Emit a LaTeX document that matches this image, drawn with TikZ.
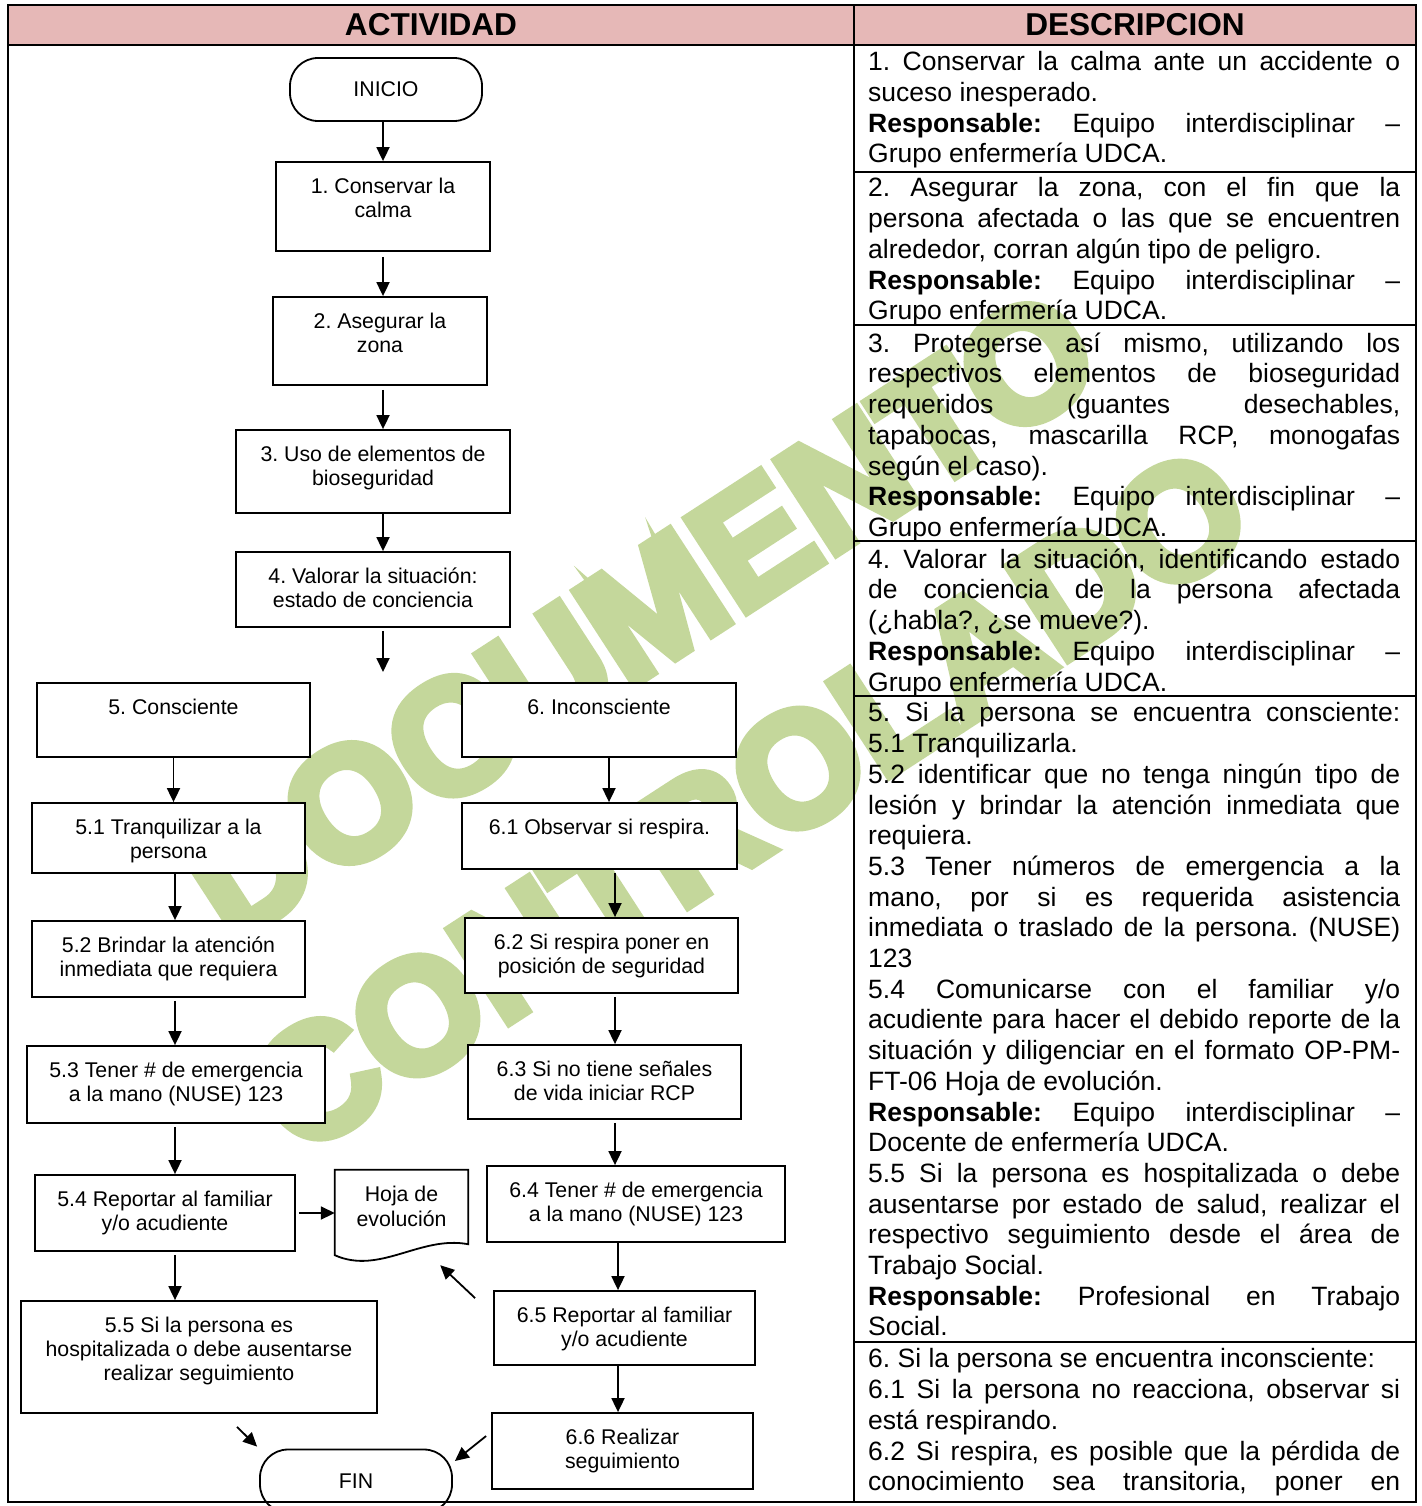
\documentclass[tikz,border=0pt]{standalone}
\usepackage{fontspec}
\setmainfont{Liberation Sans}
\newfontfamily\wmfont[BoldFeatures={FakeBold=6}]{Liberation Sans}
\usetikzlibrary{arrows.meta, positioning, calc}
\definecolor{hdrpink}{HTML}{E6B8B7}
\definecolor{wmgreen}{HTML}{C4D79B}
\frenchspacing

\begin{document}
\begin{tikzpicture}[x=1pt, y=-1pt,
  act/.style={draw, line width=1.8pt, fill=white, inner sep=0pt},
  term/.style={act, rounded corners=28pt, minimum width=192pt, minimum height=63pt,
               font=\fontsize{21.3}{24.4}\selectfont},
  acttxt/.style={anchor=north, align=center, inner sep=0pt, font=\fontsize{21.3}{24.4}\selectfont},
  desc/.style={anchor=north west, inner sep=0pt, text width=532pt, align=justify,
               font=\fontsize{26.5}{30.7}\selectfont,
               execute at begin node={\parindent=0pt\hyphenpenalty=10000\exhyphenpenalty=10000\tolerance=10000}},
  head/.style={font=\fontsize{31.6}{36}\selectfont\bfseries},
  wm/.style={text=wmgreen, inner sep=0pt, rotate=33, font=\fontsize{160}{160}\wmfont\bfseries},
  arr/.style={-{Triangle[length=14pt, width=13pt]}, line width=1.8pt},
  grid/.style={line width=2.4pt},
]
  \useasboundingbox (0,0) rectangle (1421,1506);

  % header
  \fill[hdrpink] (8,5) rectangle (1416,45);
  \node[head] (hact) at (431,25) {ACTIVIDAD};
  \node[head] (hdesc) at (1135,25) {DESCRIPCION};

  % watermark
  \node[wm] (wm1) at (640,615) {DOCUMENTO};
  \node[wm] (wm2) at (750,800) {CONTROLADO};

  % main column
  \node[term] (ini) at (386,89.5) {INICIO};
  \node[act, minimum width=214pt, minimum height=89pt] (b1) at (383,206.5) {};
  \node[acttxt] (t1) at ([yshift=-16.3pt]b1.north) {1. Conservar la\\calma};
  \node[act, minimum width=214pt, minimum height=88pt] (b2) at (380,341) {};
  \node[acttxt] (t2) at ([yshift=-16.3pt]b2.north) {2. Asegurar la\\zona};
  \node[act, minimum width=274pt, minimum height=83pt] (b3) at (373,471.5) {};
  \node[acttxt] (t3) at ([yshift=-16.3pt]b3.north) {3. Uso de elementos de\\bioseguridad};
  \node[act, minimum width=274pt, minimum height=75pt] (b4) at (373,589.5) {};
  \node[acttxt] (t4) at ([yshift=-16.3pt]b4.north) {4. Valorar la situación:\\estado de conciencia};
  \coordinate (sp) at (383,672);

  % conscious branch
  \node[act, minimum width=273pt, minimum height=74pt] (b5) at (173.5,720) {};
  \node[acttxt] (t5) at ([yshift=-16.3pt]b5.north) {5. Consciente};
  \node[act, minimum width=273pt, minimum height=70pt] (b51) at (168.5,838) {};
  \node[acttxt] (t51) at ([yshift=-16.3pt]b51.north) {5.1 Tranquilizar a la\\persona};
  \node[act, minimum width=273pt, minimum height=76pt] (b52) at (168.5,959) {};
  \node[acttxt] (t52) at ([yshift=-16.3pt]b52.north) {5.2 Brindar la atención\\inmediata que requiera};
  \node[act, minimum width=298pt, minimum height=77pt] (b53) at (176,1084.5) {};
  \node[acttxt] (t53) at ([yshift=-16.3pt]b53.north) {5.3 Tener \# de emergencia\\a la mano (NUSE) 123};
  \node[act, minimum width=260pt, minimum height=76pt] (b54) at (165,1213) {};
  \node[acttxt] (t54) at ([yshift=-16.3pt]b54.north) {5.4 Reportar al familiar\\y/o acudiente};
  \node[act, minimum width=356pt, minimum height=112pt] (b55) at (199,1357) {};
  \node[acttxt] (t55) at ([yshift=-16.3pt]b55.north) {5.5 Si la persona es\\hospitalizada o debe ausentarse\\realizar seguimiento};

  % unconscious branch
  \node[act, minimum width=274pt, minimum height=74pt] (b6) at (599,720) {};
  \node[acttxt] (t6) at ([yshift=-16.3pt]b6.north) {6. Inconsciente};
  \node[act, minimum width=275pt, minimum height=66pt] (b61) at (599.5,836) {};
  \node[acttxt] (t61) at ([yshift=-16.3pt]b61.north) {6.1 Observar si respira.};
  \node[act, minimum width=273pt, minimum height=75pt] (b62) at (601.5,955.5) {};
  \node[acttxt] (t62) at ([yshift=-16.3pt]b62.north) {6.2 Si respira poner en\\posición de seguridad};
  \node[act, minimum width=273pt, minimum height=74pt] (b63) at (604.5,1082) {};
  \node[acttxt] (t63) at ([yshift=-16.3pt]b63.north) {6.3 Si no tiene señales\\de vida iniciar RCP};
  \node[act, minimum width=298pt, minimum height=76pt] (b64) at (636,1204) {};
  \node[acttxt] (t64) at ([yshift=-16.3pt]b64.north) {6.4 Tener \# de emergencia\\a la mano (NUSE) 123};
  \node[act, minimum width=261pt, minimum height=74pt] (b65) at (624.5,1328) {};
  \node[acttxt] (t65) at ([yshift=-16.3pt]b65.north) {6.5 Reportar al familiar\\y/o acudiente};
  \node[act, minimum width=261pt, minimum height=76pt] (b66) at (622.5,1451) {};
  \node[acttxt] (t66) at ([yshift=-16.3pt]b66.north) {6.6 Realizar\\seguimiento};

  % document and end
  \node[minimum width=133pt, minimum height=85pt, inner sep=0pt] (hoja) at (401.5,1212.5) {};
  \filldraw[fill=white, line width=1.8pt] (hoja.north west) -- (hoja.north east)
    -- ($(hoja.south east)+(0,-11)$)
    .. controls ($(hoja.south east)+(-48,-20)$) and ($(hoja.south west)+(45,20)$) .. (hoja.south west)
    -- cycle;
  \node[acttxt] (thoja) at ([yshift=-16.3pt]hoja.north) {Hoja de\\evolución};
  \node[term] (fin) at (356,1481) {FIN};

  % arrow columns
  \coordinate (lc) at (175,0);
  \coordinate (rca) at (609,0);
  \coordinate (rcb) at (615,0);
  \coordinate (rcc) at (618,0);

  % connectors
  \draw[arr] (ini.south -| b1.north) -- (b1.north);
  \draw[arr, shorten <=5pt] (b1.south) -- (b1.south |- b2.north);
  \draw[arr, shorten <=4pt] (b1.south |- b2.south) -- (b1.south |- b3.north);
  \draw[arr] (b1.south |- b3.south) -- (b1.south |- b4.north);
  \draw[arr, shorten <=3pt] (b1.south |- b4.south) -- (sp);
  \draw[arr] (b5.south) -- (b5.south |- b51.north);
  \draw[arr] (lc |- b51.south) -- (lc |- b52.north);
  \draw[arr, shorten <=3pt] (lc |- b52.south) -- (lc |- b53.north);
  \draw[arr, shorten <=3pt] (lc |- b53.south) -- (lc |- b54.north);
  \draw[arr, shorten <=3pt] (lc |- b54.south) -- (lc |- b55.north);
  \draw[arr] (rca |- b6.south) -- (rca |- b61.north);
  \draw[arr, shorten <=3pt] (rcb |- b61.south) -- (rcb |- b62.north);
  \draw[arr, shorten <=3pt] (rcb |- b62.south) -- (rcb |- b63.north);
  \draw[arr, shorten <=3pt] (rcb |- b63.south) -- (rcb |- b64.north);
  \draw[arr] (rcc |- b64.south) -- (rcc |- b65.north);
  \draw[arr] (rcc |- b65.south) -- (rcc |- b66.north);
  \draw[arr, shorten <=3pt] (b54.east) -- (b54.east -| hoja.west);
  \draw[arr] ($(b65.north west)+(-18,8)$) -- ($(hoja.south east)+(-28,10)$);
  \draw[arr] ($(b55.south)+(38,13)$) -- ($(fin.north west)+(-2,-2)$);
  \draw[arr] ($(b66.west)+(-5,-15)$) -- ($(fin.east)+(2,-20)$);

  % description column
  \node[desc] (d1) at (868,51.5) {1. Conservar la calma ante un accidente o\linebreak
    suceso inesperado.\par
    \textbf{Responsable:} Equipo interdisciplinar –\linebreak
    Grupo enfermería UDCA.};
  \node[desc] (d2) at (868,177.5) {2. Asegurar la zona, con el fin que la\linebreak
    persona afectada o las que se encuentren\linebreak
    alrededor, corran algún tipo de peligro.\par
    \textbf{Responsable:} Equipo interdisciplinar –\linebreak
    Grupo enfermería UDCA.};
  \node[desc] (d3) at (868,332.5) {3. Protegerse así mismo, utilizando los\linebreak
    respectivos elementos de bioseguridad\linebreak
    requeridos (guantes desechables,\linebreak
    tapabocas, mascarilla RCP, monogafas\linebreak
    según el caso).\par
    \textbf{Responsable:} Equipo interdisciplinar –\linebreak
    Grupo enfermería UDCA.};
  \node[desc] (d4) at (868,548.5) {4. Valorar la situación, identificando estado\linebreak
    de conciencia de la persona afectada\linebreak
    (¿habla?, ¿se mueve?).\par
    \textbf{Responsable:} Equipo interdisciplinar –\linebreak
    Grupo enfermería UDCA.};
  \node[desc] (d5) at (868,702.5) {5. Si la persona se encuentra consciente:\linebreak
    5.1 Tranquilizarla.\par
    5.2 identificar que no tenga ningún tipo de\linebreak
    lesión y brindar la atención inmediata que\linebreak
    requiera.\par
    5.3 Tener números de emergencia a la\linebreak
    mano, por si es requerida asistencia\linebreak
    inmediata o traslado de la persona. (NUSE)\linebreak
    123\par
    5.4 Comunicarse con el familiar y/o\linebreak
    acudiente para hacer el debido reporte de la\linebreak
    situación y diligenciar en el formato OP-PM-\linebreak
    FT-06 Hoja de evolución.\par
    \textbf{Responsable:} Equipo interdisciplinar –\linebreak
    Docente de enfermería UDCA.\par
    5.5 Si la persona es hospitalizada o debe\linebreak
    ausentarse por estado de salud, realizar el\linebreak
    respectivo seguimiento desde el área de\linebreak
    Trabajo Social.\par
    \textbf{Responsable:} Profesional en Trabajo\linebreak
    Social.};
  \node[desc] (d6) at (868,1348.5) {6. Si la persona se encuentra inconsciente:\par
    6.1 Si la persona no reacciona, observar si\linebreak
    está respirando.\par
    6.2 Si respira, es posible que la pérdida de\linebreak
    conocimiento sea transitoria, poner en\parfillskip=0pt\par};

  % table lines
  \draw[grid] (8,5) rectangle (1416,1502);
  \draw[grid] (8,45) -- (1416,45);
  \draw[grid] (854,5) -- (854,1502);
  \foreach \yy in {172,325,541,696,1342}
    \draw[line width=1.8pt] (854,\yy) -- (1416,\yy);
\end{tikzpicture}
\end{document}
